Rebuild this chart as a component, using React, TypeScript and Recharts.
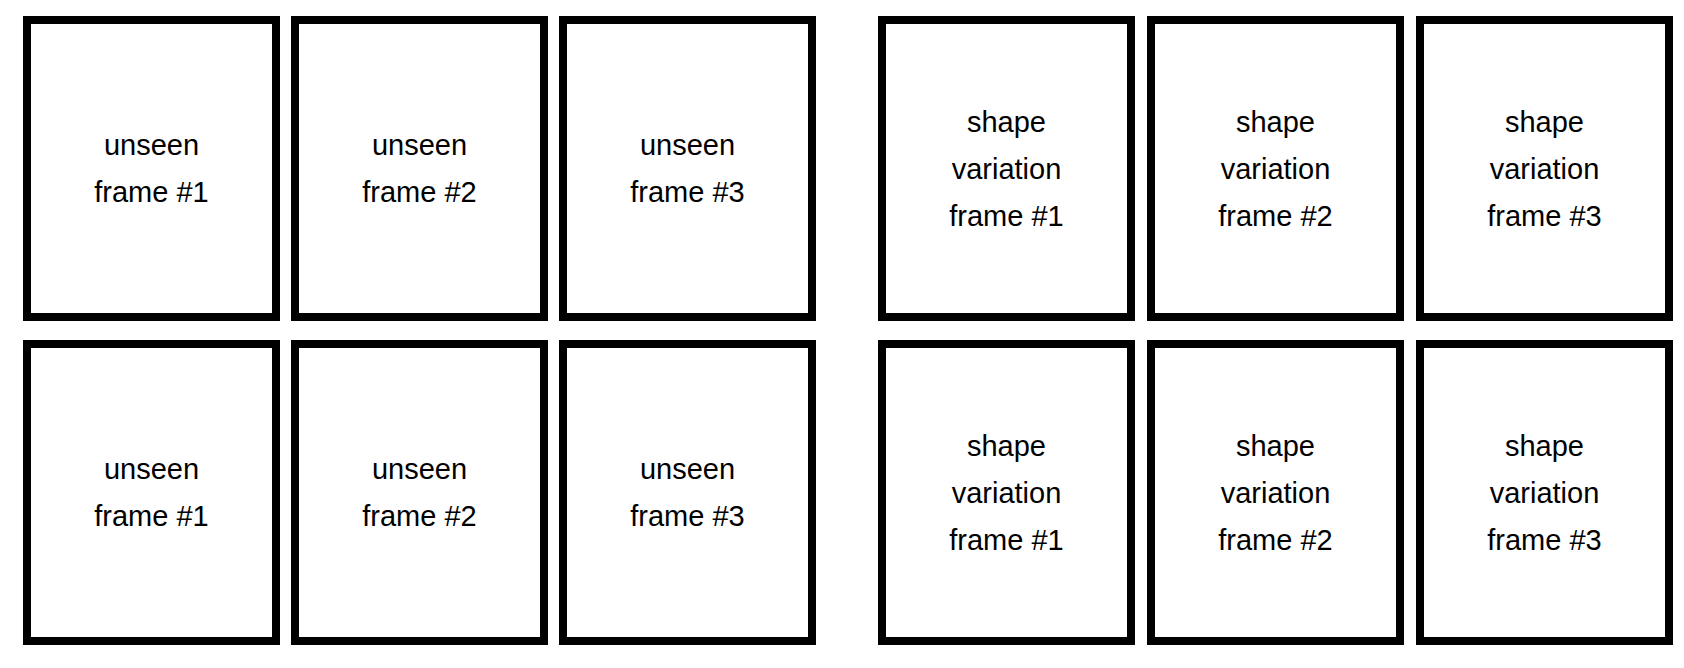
import React from "react"
import { ScatterChart, Scatter, XAxis, YAxis } from "recharts"

const groups = ["unseen", "shape variation"]
const frames = ["frame #1", "frame #2", "frame #3"]
const rows = [0, 1]

// layout in pixels
const colLeft = [27, 295, 563, 882, 1151, 1420]
const rowTop = [20, 344]
const boxW = 249
const boxH = 297
const lineGap = 47

const boxes = rows.flatMap((r) =>
  groups.flatMap((g, gi) =>
    frames.map((f, fi) => ({
      x: colLeft[gi * 3 + fi] + boxW / 2,
      y: rowTop[r] + boxH / 2,
      lines: [...g.split(" "), f],
    }))
  )
)

function BoxShape(props: any) {
  const { cx, cy, payload } = props
  const lines: string[] = payload.lines
  const start = cy - ((lines.length - 1) * lineGap) / 2
  return (
    <g>
      <rect
        x={cx - boxW / 2}
        y={cy - boxH / 2}
        width={boxW}
        height={boxH}
        fill="#fff"
        stroke="#000"
        strokeWidth={8}
      />
      {lines.map((t, i) => (
        <text
          key={i}
          x={cx}
          y={start + i * lineGap}
          textAnchor="middle"
          dominantBaseline="central"
          fontSize={29}
          fontFamily="Liberation Sans, Arial, sans-serif"
          fill="#000"
        >
          {t}
        </text>
      ))}
    </g>
  )
}

export default function App() {
  return (
    <div style={{ position: "absolute", left: 0, top: 0, background: "#fff" }}>
      <ScatterChart width={1684} height={668} margin={{ top: 0, right: 0, bottom: 0, left: 0 }}>
        <XAxis type="number" dataKey="x" domain={[0, 1684]} hide />
        <YAxis type="number" dataKey="y" domain={[0, 668]} reversed hide />
        <Scatter data={boxes} shape={<BoxShape />} isAnimationActive={false} />
      </ScatterChart>
    </div>
  )
}
